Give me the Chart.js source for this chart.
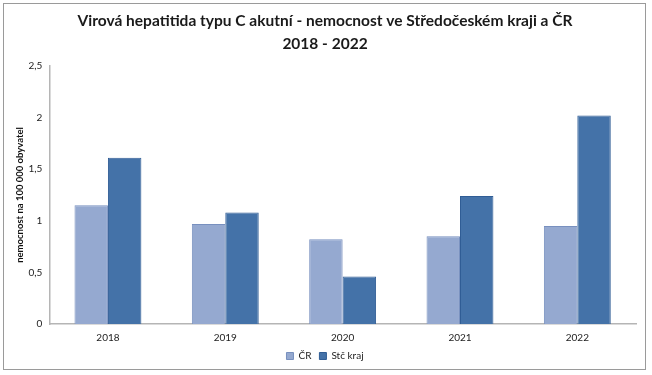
<!DOCTYPE html>
<html><head><meta charset="utf-8">
<script src="https://cdn.jsdelivr.net/npm/chart.js@4"></script>
<style>
html,body{margin:0;padding:0;background:#fff;}
#wrap{position:relative;width:652px;height:375px;}
#frame{position:absolute;left:3px;top:3px;width:641px;height:365px;border:1.5px solid #9a9a9a;pointer-events:none;}
canvas{position:absolute;left:0;top:0;}
</style></head>
<body>
<div id="wrap"><canvas id="c" width="652" height="375"></canvas><div id="frame"></div></div>
<script>
const categories = ['2018','2019','2020','2021','2022'];
const seriesCR = [1.15, 0.97, 0.82, 0.85, 0.95];
const seriesStc = [1.61, 1.08, 0.46, 1.24, 2.02];
const seriesNames = ['ČR', 'Stč kraj'];
const titleLines = ['Virová hepatitida typu C akutní - nemocnost ve Středočeském kraji a ČR', '2018 - 2022'];
const yTitle = 'nemocnost na 100 000 obyvatel';

const FONT = 'Lato, "Open Sans", sans-serif';
const SHRINK = 9, SHIFT = 9;
const legendTweak = {
  id: 'legendTweak',
  beforeUpdate(chart) {
    const lg = chart.legend;
    if (lg && !lg._tweaked) {
      const orig = lg.fit;
      lg.fit = function () { orig.call(this); this.height -= SHRINK; };
      lg._tweaked = true;
    }
  },
  afterLayout(chart) {
    const lg = chart.legend;
    if (lg) {
      lg.top -= SHIFT;
      lg.height += SHRINK;
      lg.bottom = lg.top + lg.height;
    }
  }
};
new Chart(document.getElementById('c'), {
  type: 'bar',
  data: {
    labels: categories,
    datasets: [
      {label: seriesNames[0], data: seriesCR, backgroundColor: '#95a9d0', borderColor: '#7890bf', borderWidth: 1},
      {label: seriesNames[1], data: seriesStc, backgroundColor: '#4472a8', borderColor: '#305d95', borderWidth: 1}
    ]
  },
  plugins: [legendTweak],
  options: {
    responsive: false,
    animation: false,
    devicePixelRatio: 1,
    layout: {padding: {left: 14, right: 16, top: 0, bottom: 4}},
    datasets: {bar: {categoryPercentage: 0.57, barPercentage: 1.0}},
    plugins: {
      title: {display: true, text: titleLines, color: '#1a1a1a',
        font: {family: FONT, size: 15.5, weight: 'bold', lineHeight: 1.45},
        padding: {top: 10, bottom: 11}},
      legend: {position: 'bottom', labels: {boxWidth: 7, boxHeight: 7, color: '#222', font: {family: FONT, size: 10}, padding: 8}},
      tooltip: {enabled: false}
    },
    scales: {
      x: {
        grid: {display: false, drawTicks: false},
        border: {color: '#b5b5b5', width: 1.5},
        ticks: {color: '#222', font: {family: FONT, size: 10}, padding: 8}
      },
      y: {
        min: 0, max: 2.5,
        grid: {display: false, drawTicks: true, tickLength: 4, tickColor: '#b5b5b5'},
        border: {color: '#b5b5b5', width: 1.5},
        ticks: {stepSize: 0.5, color: '#222', font: {family: FONT, size: 10}, padding: 3,
          callback: v => String(v).replace('.', ',')},
        title: {display: true, text: yTitle, color: '#111', font: {family: FONT, size: 9.5, weight: 'bold'}, padding: 0}
      }
    }
  }
});
</script>
</body></html>
